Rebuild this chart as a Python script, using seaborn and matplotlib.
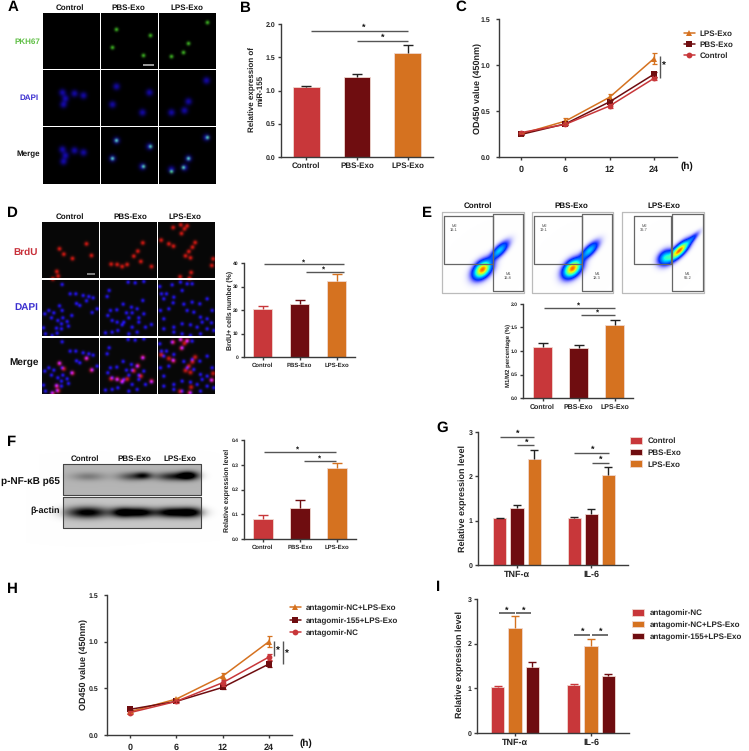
import numpy as np
import pandas as pd
import matplotlib
matplotlib.use('Agg')
import matplotlib.pyplot as plt
import seaborn as sns

# bar panels
groups = ['Control', 'PBS-Exo', 'LPS-Exo']
b_vals = [1.06, 1.20, 1.57]
b_errs = [0.015, 0.045, 0.11]
d_vals = [20.5, 22.5, 32.5]
d_errs = [1.0, 1.6, 2.7]
e_vals = [1.08, 1.07, 1.56]
e_errs = [0.08, 0.05, 0.11]
f_vals = [0.082, 0.127, 0.285]
f_errs = [0.014, 0.030, 0.022]

# grouped bars
cytokines = ['TNF-α', 'IL-6']
g_vals = {'Control': [1.05, 1.07], 'PBS-Exo': [1.28, 1.15], 'LPS-Exo': [2.39, 2.04]}
g_errs = {'Control': [0.01, 0.015], 'PBS-Exo': [0.08, 0.11], 'LPS-Exo': [0.21, 0.18]}
ant = ['antagomir-NC', 'antagomir-NC+LPS-Exo', 'antagomir-155+LPS-Exo']
i_vals = {ant[0]: [1.04, 1.08], ant[1]: [2.36, 1.95], ant[2]: [1.47, 1.27]}
i_errs = {ant[0]: [0.006, 0.02], ant[1]: [0.25, 0.16], ant[2]: [0.12, 0.06]}

# growth curves
hours = ['0', '6', '12', '24']
c_vals = {'LPS-Exo': [0.25, 0.39, 0.65, 1.07], 'PBS-Exo': [0.245, 0.36, 0.60, 0.90], 'Control': [0.265, 0.355, 0.555, 0.855]}
c_errs = {'LPS-Exo': [0.01, 0.03, 0.03, 0.06], 'PBS-Exo': [0.01, 0.015, 0.02, 0.025], 'Control': [0.01, 0.01, 0.02, 0.02]}
h_vals = {ant[1]: [0.25, 0.385, 0.63, 1.0], ant[2]: [0.275, 0.36, 0.51, 0.76], ant[0]: [0.24, 0.36, 0.56, 0.835]}
h_errs = {ant[1]: [0.01, 0.01, 0.03, 0.06], ant[2]: [0.01, 0.01, 0.012, 0.03], ant[0]: [0.02, 0.012, 0.03, 0.03]}

# cell centres (panel A)
a_pkh = [[], [(116, 29), (150, 35), (112, 47), (143, 55)], [(207, 22), (188, 43), (183, 52), (171, 56)]]
a_dapi = [[(62, 92), (74, 93), (83, 95), (65, 98), (63, 104)],
          [(116, 86), (149, 92), (112, 104), (142, 112)],
          [(206, 80), (188, 101), (184, 110), (171, 112)]]
a_shift = [57, 54, 57]

# cell centres panel D, in 3x crop units
d_brdu = [[(190, 176), (216, 189), (169, 228), (173, 242), (273, 180), (177, 160), (258, 145), (157, 250)],
          [(412, 167), (400, 182), (421, 198), (380, 207), (365, 213), (350, 207), (332, 206), (453, 213), (427, 142)],
          [(518, 96), (541, 88), (560, 91), (552, 100), (543, 114), (482, 134), (505, 145), (519, 152), (584, 141),
           (576, 155), (565, 168), (555, 181), (570, 187), (638, 190), (634, 210), (572, 231), (539, 244), (567, 248)]]
d_dapi = [(185, 267), (209, 295), (226, 295), (248, 300), (265, 303), (278, 307), (258, 316), (228, 324), (238, 330),
          (177, 331), (185, 345), (145, 345), (133, 355), (160, 352), (153, 367), (172, 375), (187, 367), (214, 360),
          (200, 378), (275, 351), (290, 340), (183, 385), (204, 392), (168, 398), (183, 400), (129, 397), (135, 415),
          (155, 420), (170, 413),
          (326, 285), (320, 303), (383, 260), (404, 262), (430, 258), (427, 315), (368, 326), (393, 335), (349, 343),
          (330, 345), (322, 360), (378, 352), (395, 352), (410, 340), (430, 355), (415, 367), (385, 367), (370, 380),
          (350, 380), (335, 375), (395, 395), (415, 380), (453, 387), (435, 395), (365, 388), (315, 412), (335, 410),
          (352, 405), (385, 415), (410, 410),
          (478, 273), (515, 268), (540, 260), (560, 265), (575, 265), (483, 295), (498, 295), (520, 305), (545, 285),
          (490, 310), (518, 322), (550, 326), (575, 320), (598, 325), (620, 310), (480, 345), (505, 340), (560, 345),
          (580, 350), (600, 365), (620, 370), (635, 345), (490, 370), (520, 395), (545, 385), (570, 388), (590, 395),
          (605, 380), (633, 382), (520, 410), (545, 415), (570, 420), (600, 415), (620, 400), (490, 400), (640, 405)]

# flow cytometry clouds: x, y, long sd, short sd, height
flow_clouds = [[(482, 269, 7, 4.5, 1.0), (499, 250, 7.5, 3, 0.45)],
               [(572, 268, 7, 4.5, 1.0), (589, 250, 7.5, 3, 0.45)],
               [(679, 250, 8, 3, 1.0), (665, 257, 5.5, 4, 0.5), (692, 238, 6, 1.8, 0.2)]]
flow_m1 = ['M1\n16.8', 'M1\n18.3', 'M1\n56.2']
flow_m2 = ['M2\n16.1', 'M2\n19.1', 'M2\n36.7']

# blot bands: x, y, half width, half height, darkness
pnf_bands = [(88, 476, 12, 3, 0.22), (131, 476, 10, 3, 0.38), (143, 475, 6, 2.5, 0.5),
             (172, 476, 12, 3, 0.55), (188, 475, 7, 3, 0.8)]
actin_bands = [(87, 512, 15, 4, 0.85), (122, 512, 8, 3.5, 0.8), (140, 512, 10, 3.5, 0.85),
               (170, 512, 11, 3.5, 0.85), (190, 512, 9, 3.5, 0.85)]

RED = '#C8373A'
DARK = '#6F0D10'
ORANGE = '#D57220'
palette = {'Control': RED, 'PBS-Exo': DARK, 'LPS-Exo': ORANGE, ant[0]: RED, ant[1]: ORANGE, ant[2]: DARK}
markers = {'LPS-Exo': '^', 'PBS-Exo': 's', 'Control': 'o', ant[1]: '^', ant[2]: 's', ant[0]: 'o'}
AXC = '#3a3a3a'
SIG = '#555555'

sns.set_theme(style='ticks')
plt.rcParams['font.family'] = ['Liberation Sans', 'DejaVu Sans']
plt.rcParams['font.weight'] = 'bold'
plt.rcParams['axes.labelweight'] = 'bold'
plt.rcParams['text.hinting'] = 'no_hinting'
plt.rcParams['text.hinting_factor'] = 1

W, H = 749, 751
fig = plt.figure(figsize=(W / 100, H / 100), dpi=100)
bg = fig.add_axes([0, 0, 1, 1], zorder=0)
bg.set_xlim(0, W)
bg.set_ylim(H, 0)
bg.axis('off')


def px(size):
    return size * 0.72


def spot(canvas, x, y, color, s, amp, sy=None):
    sy = s if sy is None else sy
    r = int(4 * max(s, sy)) + 1
    x0, x1 = max(int(x) - r, 0), min(int(x) + r + 1, W)
    y0, y1 = max(int(y) - r, 0), min(int(y) + r + 1, H)
    yy, xx = np.mgrid[y0:y1, x0:x1]
    g = amp * np.exp(-((xx - x) ** 2 / (2 * s ** 2) + (yy - y) ** 2 / (2 * sy ** 2)))
    canvas[y0:y1, x0:x1] += g[..., None] * np.array(color)


canvas = np.ones((H, W, 3))
GREEN = (0.35, 1.0, 0.2)
BLUE = (0.12, 0.05, 1.0)
REDC = (0.95, 0.08, 0.05)

# panel A
for x0, x1 in [(43, 100), (101, 158), (159, 216)]:
    for y0, y1 in [(13, 69), (70, 126), (127, 184)]:
        canvas[y0:y1, x0:x1] = 0
for col in range(3):
    for x, y in a_pkh[col]:
        dy = 57 if col == 1 else 58
        spot(canvas, x, y, GREEN, 1.5, 0.6)
        spot(canvas, x, y + dy + a_shift[col], GREEN, 1.4, 0.65)
    for x, y in a_dapi[col]:
        spot(canvas, x, y, BLUE, 2.5, 0.6)
        spot(canvas, x, y + a_shift[col], BLUE, 2.5, 0.6)
canvas[64:66, 143:154] = 0.6

# panel D
for x0, x1 in [(42, 99), (100, 157), (158, 215)]:
    for y0, y1 in [(222, 278), (280, 336), (338, 394)]:
        canvas[y0:y1, x0:x1] = 0.03
for col in range(3):
    for zx, zy in d_brdu[col]:
        x, y = zx / 3, 195 + zy / 3
        spot(canvas, x, y, REDC, 1.6, 0.75)
        spot(canvas, x, y + 114.6, REDC, 1.7, 0.7)
for zx, zy in d_dapi:
    x, y = zx / 3, 195 + zy / 3
    spot(canvas, x, y, BLUE, 1.4, 0.8)
    spot(canvas, x, y + 57.3, BLUE, 1.4, 0.8)
canvas[273:275, 87:95] = 0.5

# panel F blots
canvas[464:495, 63:201] = 0.71
canvas[497:528, 63:201] = 0.78
for x, y, s, sy, dark in pnf_bands + actin_bands:
    spot(canvas, x, y, (1, 1, 1), s, -dark, sy)

# panel E density clouds
jet = matplotlib.colormaps['jet']
for clouds, (x0, x1) in zip(flow_clouds, [(443, 524), (533, 613), (623, 704)]):
    yy, xx = np.mgrid[213:293, x0:x1]
    dens = np.zeros(xx.shape)
    for cx, cy, sl, ss, amp in clouds:
        # clouds run along the up-right diagonal
        u = ((xx - cx) - (yy - cy)) / np.sqrt(2)
        v = ((xx - cx) + (yy - cy)) / np.sqrt(2)
        dens += amp * np.exp(-(u ** 2 / (2 * sl ** 2) + v ** 2 / (2 * ss ** 2)))
    rgb = jet(np.clip(0.1 + 0.7 * dens ** 1.4, 0, 1))[..., :3]
    alpha = np.clip(dens / 0.2, 0, 1)[..., None]
    canvas[213:293, x0:x1] = canvas[213:293, x0:x1] * (1 - alpha) + rgb * alpha

bg.imshow(np.clip(canvas, 0, 1), extent=(0, W, H, 0), aspect='auto', interpolation='bilinear', zorder=0)
bg.set_xlim(0, W)
bg.set_ylim(H, 0)


def label(x, y, s, size, color='#111111', ha='center', weight='bold'):
    bg.text(x, y, s, fontsize=px(size), color=color, ha=ha, va='center', fontweight=weight, zorder=6)


def sig_h(x0, x1, y, sx, sy, lw=1.0, size=9):
    bg.plot([x0, x1], [y, y], color=SIG, lw=lw, solid_capstyle='butt', zorder=6)
    label(sx, sy, '*', size)


def sig_v(x, y0, y1, sx, sy, size=10):
    bg.plot([x, x], [y0, y1], color=SIG, lw=1.0, solid_capstyle='butt', zorder=6)
    label(sx, sy, '*', size)


def make_axes(l, t, r, b):
    ax = fig.add_axes([l / W, 1 - b / H, (r - l) / W, (b - t) / H], zorder=3)
    ax.patch.set_alpha(0)
    return ax


def style(ax, ylim, yticks, ticklabels, ysize, xsize, lw=1.0, ylabel='', ylab_size=8, pad=1.5):
    ax.set_ylim(*ylim)
    ax.set_yticks(yticks)
    ax.set_yticklabels(ticklabels, fontsize=px(ysize), fontweight='bold', color='#222222')
    ax.tick_params(axis='both', length=2.5, width=lw, color=AXC, pad=pad)
    ax.tick_params(axis='x', labelsize=px(xsize), labelcolor='#222222')
    for lab in ax.get_xticklabels():
        lab.set_fontweight('bold')
    sns.despine(ax=ax)
    for side in ['left', 'bottom']:
        ax.spines[side].set_color(AXC)
        ax.spines[side].set_linewidth(lw)
    ax.set_xlabel('')
    ax.set_ylabel(ylabel, fontsize=px(ylab_size), fontweight='bold', color='#222222', linespacing=1.05, va='center')


def place_ylabel(ax, x, y):
    # label position given in figure pixels
    inv = ax.transAxes.inverted()
    ax_x, ax_y = inv.transform(bg.transData.transform((x, y)))
    ax.yaxis.set_label_coords(ax_x, ax_y)


def add_err(ax, x, y, e, color, lw=1.0, cap=3.5):
    line = ax.errorbar(x, y, yerr=[[0], [e]], color=color, lw=lw, capsize=cap, capthick=lw, fmt='none', zorder=5)
    line[1][0].set_visible(False)


def simple_bars(box, vals, errs, ylim, yticks, ticklabels, ylabel, ylab_pos, err_colored, width,
                ysize, xsize, ylab_size, xlim=(-0.5, 2.5)):
    ax = make_axes(*box)
    df = pd.DataFrame({'group': groups, 'value': vals})
    sns.barplot(data=df, x='group', y='value', hue='group', palette=palette, width=width, errorbar=None,
                legend=False, ax=ax, edgecolor='#f0d8d0', linewidth=0.6, saturation=1)
    for i, g in enumerate(groups):
        add_err(ax, i, vals[i], errs[i], palette[g] if err_colored else '#222222')
    ax.set_xlim(*xlim)
    style(ax, ylim, yticks, ticklabels, ysize, xsize, ylabel=ylabel, ylab_size=ylab_size)
    place_ylabel(ax, *ylab_pos)
    return ax


def grouped_bars(box, data, errs, order, ylabel, ylab_pos, err_colored, width, gap, xlim, legend_xy, legend_size):
    ax = make_axes(*box)
    rows = [(c, s, data[s][i]) for s in order for i, c in enumerate(cytokines)]
    df = pd.DataFrame(rows, columns=['cytokine', 'series', 'value'])
    sns.barplot(data=df, x='cytokine', y='value', hue='series', hue_order=order, palette=palette, width=width,
                gap=gap, errorbar=None, ax=ax, edgecolor='#f0d8d0', linewidth=0.6, saturation=1)
    step = width / 3
    for k, s in enumerate(order):
        for i in range(2):
            add_err(ax, i + (k - 1) * step, data[s][i], errs[s][i], palette[s] if err_colored else '#222222', cap=3)
    ax.set_xlim(*xlim)
    style(ax, (0, 3), [0, 1, 2, 3], ['0', '1', '2', '3'], 7, 9.5, ylabel=ylabel, ylab_size=9.5)
    place_ylabel(ax, *ylab_pos)
    ax.legend(loc='upper left', bbox_to_anchor=legend_xy, bbox_transform=bg.transData, frameon=False, borderpad=0,
              borderaxespad=0, handlelength=1.5, handleheight=0.85, handletextpad=0.6,
              labelspacing=0.48, prop=dict(size=px(legend_size), weight='bold'))
    return ax


def curves(box, data, errs, order, ylabel, ylab_pos, legend_xy, xlim, legend_size, spacing):
    ax = make_axes(*box)
    rows = [(i, s, data[s][i]) for s in order for i in range(4)]
    df = pd.DataFrame(rows, columns=['hour', 'series', 'value'])
    sns.lineplot(data=df, x='hour', y='value', hue='series', hue_order=order, style='series', style_order=order,
                 palette=palette, markers=markers, dashes=False, errorbar=None, linewidth=1.1, markersize=4.2,
                 markeredgewidth=0, ax=ax)
    for s in order:
        ax.errorbar(range(4), data[s], yerr=errs[s], color=palette[s], lw=1.0, capsize=1.8, capthick=0.9, fmt='none')
    ax.set_xlim(*xlim)
    ax.set_xticks(range(4))
    ax.set_xticklabels(hours)
    style(ax, (0, 1.5), [0, 0.5, 1.0, 1.5], ['0.0', '0.5', '1.0', '1.5'], 7, 8.8, ylabel=ylabel, ylab_size=9.5, pad=3.5)
    place_ylabel(ax, *ylab_pos)
    ax.legend(loc='upper left', bbox_to_anchor=legend_xy, bbox_transform=bg.transData, frameon=False, borderpad=0,
              borderaxespad=0, handlelength=1.3, handletextpad=0.6, labelspacing=spacing,
              prop=dict(size=px(legend_size), weight='bold'))
    return ax


# B
simple_bars((281, 24, 433, 157), b_vals, b_errs, (0, 2), [0, 0.5, 1, 1.5, 2], ['0.0', '0.5', '1.0', '1.5', '2.0'],
            'Relative expression of\nmiR-155', (256, 90), False, 0.53, 7, 8.5, 8.5)
sig_h(311, 408, 31, 364, 28)
sig_h(357, 408, 41, 383, 38)

# C
curves((499, 19, 677, 157), c_vals, c_errs, ['LPS-Exo', 'PBS-Exo', 'Control'], 'OD450 value (450nm)', (478, 88),
       (684, 30), (-0.497, 3.52), 8.3, 0.42)
label(687, 166, '(h)', 10)
sig_v(660, 56, 78, 664, 66)

# D
simple_bars((244, 263, 355, 357), d_vals, d_errs, (0, 40), [0, 10, 20, 30, 40], ['0', '10', '20', '30', '40'],
            'BrdU+ cells number (%)', (230, 310), True, 0.52, 5.5, 6.5, 6.7)
sig_h(264, 344, 264, 304, 262, size=8)
sig_h(306, 344, 272, 324, 269, size=8)

# E
simple_bars((523, 304, 633, 398), e_vals, e_errs, (0, 2), [0, 0.5, 1, 1.5, 2], ['0.0', '0.5', '1.0', '1.5', '2.0'],
            'M1/M2 percentage (%)', (508, 355), False, 0.53, 5.5, 6.7, 6.2, xlim=(-0.54, 2.5))
sig_h(544, 615, 308, 579, 305, size=8)
sig_h(581, 615, 315, 598, 312, size=8)

# F
simple_bars((244, 440, 356, 539), f_vals, f_errs, (0, 0.4), [0, 0.1, 0.2, 0.3, 0.4], ['0.0', '0.1', '0.2', '0.3', '0.4'],
            'Relative expression level', (227, 490), True, 0.53, 5, 6.5, 7.1)
sig_h(264, 336, 452, 298, 449, size=8)
sig_h(304, 336, 461, 320, 458, size=8)

# G
grouped_bars((478, 432, 628, 565), g_vals, g_errs, groups, 'Relative expression level', (463, 498), False,
             0.687, 0.235, (-0.525, 1.494), (630, 437), 8.2)
sig_h(500, 534, 437, 518, 434)
sig_h(517, 534, 445, 527, 443)
sig_h(574, 609, 453, 593, 450)
sig_h(592, 609, 463, 601, 460)

# H
curves((107, 595, 292, 735), h_vals, h_errs, [ant[1], ant[2], ant[0]], 'OD450 value (450nm)', (84, 665),
       (290, 604.5), (-0.497, 3.5), 8.3, 0.6)
label(306, 743, '(h)', 10)
sig_v(274, 641, 656, 278, 651)
sig_v(283, 641, 664, 287, 654)

# I
grouped_bars((477, 599, 629, 733), i_vals, i_errs, ant, 'Relative expression level', (460, 665), True,
             0.69, 0.256, (-0.5, 1.5), (632, 609), 8.3)
sig_h(499, 515, 613, 507, 611, lw=1.2)
sig_h(516, 531, 613, 524, 611, lw=1.2)
sig_h(574, 590, 635, 583, 632, lw=1.2)
sig_h(592, 608, 635, 601, 632, lw=1.2)

# A labels
for x, g in zip([70, 128, 187], groups):
    label(x, 8, g, 8.2)
label(40, 42, 'PKH67', 8, color='#5fbf45', ha='right')
label(39, 98, 'DAPI', 8, color='#3b2fd0', ha='right')
label(40, 154, 'Merge', 8, ha='right')

# D labels
for x, g in zip([70, 130, 185], groups):
    label(x, 217, g, 8.2)
label(38, 252, 'BrdU', 9.8, color='#c8303a', ha='right')
label(38, 307, 'DAPI', 9.8, color='#3b2fd0', ha='right')
label(39, 363, 'Merge', 9.7, ha='right')

# E labels and gates
for x, g in zip([478, 571, 664], groups):
    label(x, 206, g, 8.2)
gates = [((444, 493, 216, 264), (493, 523, 214, 291)),
         ((534, 582, 216, 264), (582, 612, 214, 291)),
         ((634, 671, 216, 264), (672, 703, 214, 291))]
frames = [(442, 524), (532, 613), (622, 704)]
for (fx0, fx1), (m2, m1), t1, t2 in zip(frames, gates, flow_m1, flow_m2):
    bg.plot([fx0, fx1, fx1, fx0, fx0], [212, 212, 293, 293, 212], color='#bbbbbb', lw=0.9, zorder=4)
    for x0, x1, y0, y1 in (m2, m1):
        bg.plot([x0, x1, x1, x0, x0], [y0, y0, y1, y1, y0], color='#666666', lw=0.9, zorder=5)
    label(m2[0] + 10, 228, t2, 3.6, color='#444444', weight='normal')
    label((m1[0] + m1[1]) / 2, 276, t1, 3.6, color='#444444', weight='normal')

# F labels and frame
for x, g in zip([85, 134, 180], groups):
    label(x, 459, g, 8.4)
label(60, 482, 'p-NF-κB p65', 9.6, ha='right')
label(60, 511, 'β-actin', 9.5, ha='right')
for y0, y1 in [(464, 495), (497, 528)]:
    bg.plot([63, 201, 201, 63, 63], [y0, y0, y1, y1, y0], color='#444444', lw=0.8, zorder=5)

# panel letters
for (x, y), s in zip([(13, 7), (245, 8), (461, 7), (12, 213), (427, 213), (12, 442), (442, 428), (12, 589), (438, 587)],
                     'ABCDEFGHI'):
    label(x, y, s, 15, color='black')

fig.savefig('out.png', dpi=100)
